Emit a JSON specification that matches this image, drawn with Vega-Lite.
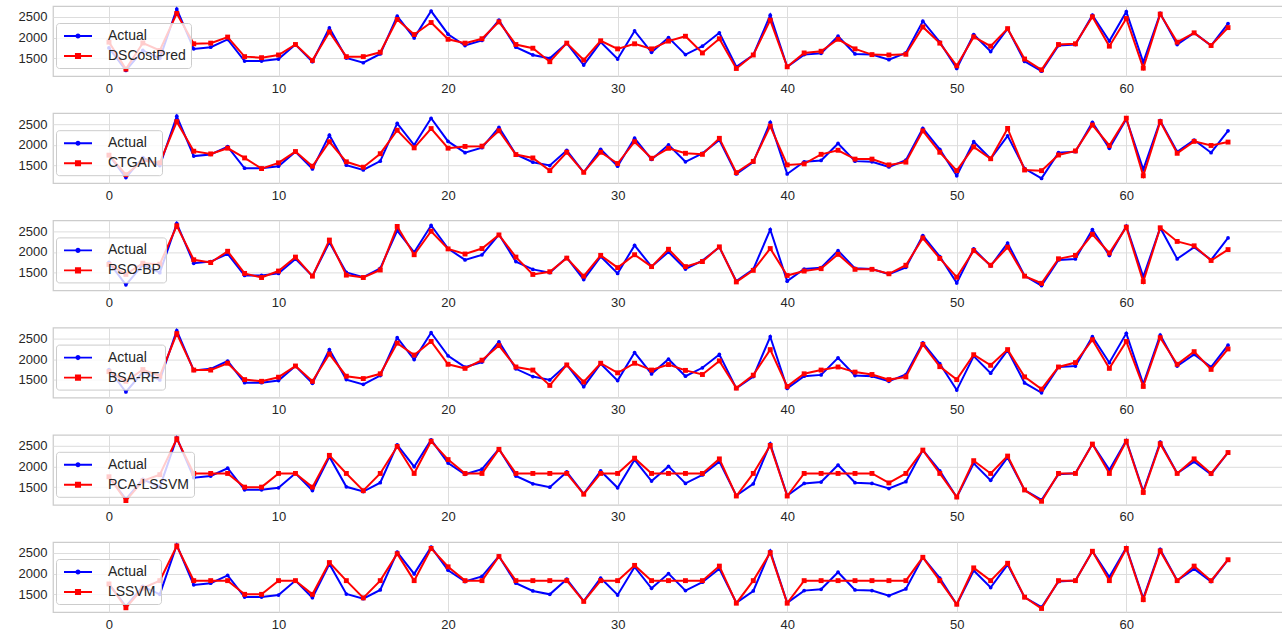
{
"$schema": "https://vega.github.io/schema/vega-lite/v6.json",
"background": "white",
"padding": {"left": 17, "top": 4, "right": 0, "bottom": 0},
"config": {
  "font": "Liberation Sans",
  "view": {"stroke": "#cccccc", "strokeWidth": 1.25},
  "axis": {"grid": true, "gridColor": "#dddddd", "gridWidth": 1, "domain": false, "ticks": false, "labelFont": "Liberation Sans", "labelFontSize": 13, "labelColor": "#262626", "labelPadding": 6, "title": null},
  "axisY": {"format": "d"},
  "legend": {"orient": "none", "legendX": 3, "legendY": 17, "title": null, "fillColor": "rgba(255,255,255,0.8)", "strokeColor": "#cccccc", "cornerRadius": 3, "padding": 5, "labelFontSize": 14, "labelFont": "Liberation Sans", "labelColor": "#262626", "symbolOffset": 9, "labelOffset": 22, "symbolSize": 256, "rowPadding": 5, "symbolStrokeWidth": 0},
  "concat": {"spacing": 15.2}
},
"resolve": {"scale": {"color": "independent", "y": "independent", "x": "independent"}, "legend": {"color": "independent"}},
"data": {"values": [
{"x":0,"Actual":1750,"DSCostPred":1890,"CTGAN":1750,"PSO-BP":1700,"BSA-RF":1700,"PCA-LSSVM":1750,"LSSVM":1750},
{"x":1,"Actual":1210,"DSCostPred":1240,"CTGAN":1280,"PSO-BP":1460,"BSA-RF":1467,"PCA-LSSVM":1177,"LSSVM":1177},
{"x":2,"Actual":1690,"DSCostPred":1870,"CTGAN":1620,"PSO-BP":1730,"BSA-RF":1750,"PCA-LSSVM":1650,"LSSVM":1650},
{"x":3,"Actual":1500,"DSCostPred":1690,"CTGAN":1565,"PSO-BP":1705,"BSA-RF":1590,"PCA-LSSVM":1800,"LSSVM":1830},
{"x":4,"Actual":2687,"DSCostPred":2581,"CTGAN":2557,"PSO-BP":2630,"BSA-RF":2615,"PCA-LSSVM":2665,"LSSVM":2665},
{"x":5,"Actual":1728,"DSCostPred":1850,"CTGAN":1845,"PSO-BP":1812,"BSA-RF":1738,"PCA-LSSVM":1830,"LSSVM":1830},
{"x":6,"Actual":1768,"DSCostPred":1866,"CTGAN":1780,"PSO-BP":1746,"BSA-RF":1738,"PCA-LSSVM":1830,"LSSVM":1830},
{"x":7,"Actual":1955,"DSCostPred":2012,"CTGAN":1918,"PSO-BP":2017,"BSA-RF":1902,"PCA-LSSVM":1830,"LSSVM":1830},
{"x":8,"Actual":1435,"DSCostPred":1541,"CTGAN":1683,"PSO-BP":1484,"BSA-RF":1508,"PCA-LSSVM":1500,"LSSVM":1500},
{"x":9,"Actual":1435,"DSCostPred":1516,"CTGAN":1427,"PSO-BP":1385,"BSA-RF":1467,"PCA-LSSVM":1500,"LSSVM":1500},
{"x":10,"Actual":1484,"DSCostPred":1581,"CTGAN":1565,"PSO-BP":1541,"BSA-RF":1566,"PCA-LSSVM":1830,"LSSVM":1830},
{"x":11,"Actual":1833,"DSCostPred":1833,"CTGAN":1837,"PSO-BP":1877,"BSA-RF":1836,"PCA-LSSVM":1830,"LSSVM":1830},
{"x":12,"Actual":1419,"DSCostPred":1451,"CTGAN":1484,"PSO-BP":1418,"BSA-RF":1467,"PCA-LSSVM":1500,"LSSVM":1500},
{"x":13,"Actual":2232,"DSCostPred":2134,"CTGAN":2073,"PSO-BP":2287,"BSA-RF":2123,"PCA-LSSVM":2265,"LSSVM":2265},
{"x":14,"Actual":1508,"DSCostPred":1541,"CTGAN":1590,"PSO-BP":1443,"BSA-RF":1590,"PCA-LSSVM":1830,"LSSVM":1830},
{"x":15,"Actual":1394,"DSCostPred":1541,"CTGAN":1460,"PSO-BP":1385,"BSA-RF":1533,"PCA-LSSVM":1415,"LSSVM":1415},
{"x":16,"Actual":1606,"DSCostPred":1646,"CTGAN":1785,"PSO-BP":1566,"BSA-RF":1648,"PCA-LSSVM":1830,"LSSVM":1830},
{"x":17,"Actual":2516,"DSCostPred":2435,"CTGAN":2350,"PSO-BP":2615,"BSA-RF":2386,"PCA-LSSVM":2478,"LSSVM":2478},
{"x":18,"Actual":1992,"DSCostPred":2073,"CTGAN":1926,"PSO-BP":1934,"BSA-RF":2099,"PCA-LSSVM":1830,"LSSVM":1830},
{"x":19,"Actual":2638,"DSCostPred":2362,"CTGAN":2390,"PSO-BP":2500,"BSA-RF":2427,"PCA-LSSVM":2605,"LSSVM":2605},
{"x":20,"Actual":2081,"DSCostPred":1959,"CTGAN":1918,"PSO-BP":2074,"BSA-RF":1877,"PCA-LSSVM":2163,"LSSVM":2163},
{"x":21,"Actual":1809,"DSCostPred":1866,"CTGAN":1960,"PSO-BP":1951,"BSA-RF":1779,"PCA-LSSVM":1830,"LSSVM":1830},
{"x":22,"Actual":1931,"DSCostPred":1972,"CTGAN":1967,"PSO-BP":2082,"BSA-RF":1976,"PCA-LSSVM":1830,"LSSVM":1830},
{"x":23,"Actual":2419,"DSCostPred":2378,"CTGAN":2338,"PSO-BP":2410,"BSA-RF":2328,"PCA-LSSVM":2410,"LSSVM":2410},
{"x":24,"Actual":1768,"DSCostPred":1833,"CTGAN":1764,"PSO-BP":1877,"BSA-RF":1812,"PCA-LSSVM":1830,"LSSVM":1830},
{"x":25,"Actual":1581,"DSCostPred":1744,"CTGAN":1683,"PSO-BP":1459,"BSA-RF":1738,"PCA-LSSVM":1830,"LSSVM":1830},
{"x":26,"Actual":1500,"DSCostPred":1419,"CTGAN":1378,"PSO-BP":1525,"BSA-RF":1369,"PCA-LSSVM":1830,"LSSVM":1830},
{"x":27,"Actual":1866,"DSCostPred":1866,"CTGAN":1820,"PSO-BP":1852,"BSA-RF":1861,"PCA-LSSVM":1830,"LSSVM":1830},
{"x":28,"Actual":1337,"DSCostPred":1459,"CTGAN":1337,"PSO-BP":1418,"BSA-RF":1451,"PCA-LSSVM":1330,"LSSVM":1330},
{"x":29,"Actual":1890,"DSCostPred":1923,"CTGAN":1820,"PSO-BP":1918,"BSA-RF":1902,"PCA-LSSVM":1830,"LSSVM":1830},
{"x":30,"Actual":1484,"DSCostPred":1728,"CTGAN":1549,"PSO-BP":1623,"BSA-RF":1672,"PCA-LSSVM":1830,"LSSVM":1830},
{"x":31,"Actual":2159,"DSCostPred":1850,"CTGAN":2073,"PSO-BP":1934,"BSA-RF":1902,"PCA-LSSVM":2197,"LSSVM":2197},
{"x":32,"Actual":1646,"DSCostPred":1728,"CTGAN":1675,"PSO-BP":1648,"BSA-RF":1738,"PCA-LSSVM":1830,"LSSVM":1830},
{"x":33,"Actual":2000,"DSCostPred":1915,"CTGAN":1915,"PSO-BP":2065,"BSA-RF":1870,"PCA-LSSVM":1830,"LSSVM":1830},
{"x":34,"Actual":1590,"DSCostPred":2032,"CTGAN":1795,"PSO-BP":1648,"BSA-RF":1730,"PCA-LSSVM":1830,"LSSVM":1830},
{"x":35,"Actual":1793,"DSCostPred":1630,"CTGAN":1770,"PSO-BP":1770,"BSA-RF":1631,"PCA-LSSVM":1830,"LSSVM":1830},
{"x":36,"Actual":2114,"DSCostPred":1972,"CTGAN":2155,"PSO-BP":2123,"BSA-RF":1959,"PCA-LSSVM":2180,"LSSVM":2180},
{"x":37,"Actual":1297,"DSCostPred":1256,"CTGAN":1330,"PSO-BP":1279,"BSA-RF":1303,"PCA-LSSVM":1287,"LSSVM":1287},
{"x":38,"Actual":1581,"DSCostPred":1581,"CTGAN":1600,"PSO-BP":1557,"BSA-RF":1615,"PCA-LSSVM":1830,"LSSVM":1830},
{"x":39,"Actual":2540,"DSCostPred":2419,"CTGAN":2450,"PSO-BP":2082,"BSA-RF":2230,"PCA-LSSVM":2503,"LSSVM":2503},
{"x":40,"Actual":1297,"DSCostPred":1297,"CTGAN":1516,"PSO-BP":1434,"BSA-RF":1344,"PCA-LSSVM":1287,"LSSVM":1287},
{"x":41,"Actual":1590,"DSCostPred":1630,"CTGAN":1540,"PSO-BP":1541,"BSA-RF":1648,"PCA-LSSVM":1830,"LSSVM":1830},
{"x":42,"Actual":1622,"DSCostPred":1671,"CTGAN":1770,"PSO-BP":1598,"BSA-RF":1738,"PCA-LSSVM":1830,"LSSVM":1830},
{"x":43,"Actual":2032,"DSCostPred":1959,"CTGAN":1868,"PSO-BP":1943,"BSA-RF":1812,"PCA-LSSVM":1830,"LSSVM":1830},
{"x":44,"Actual":1606,"DSCostPred":1728,"CTGAN":1655,"PSO-BP":1582,"BSA-RF":1689,"PCA-LSSVM":1830,"LSSVM":1830},
{"x":45,"Actual":1590,"DSCostPred":1590,"CTGAN":1655,"PSO-BP":1582,"BSA-RF":1631,"PCA-LSSVM":1830,"LSSVM":1830},
{"x":46,"Actual":1467,"DSCostPred":1581,"CTGAN":1516,"PSO-BP":1475,"BSA-RF":1508,"PCA-LSSVM":1602,"LSSVM":1830},
{"x":47,"Actual":1630,"DSCostPred":1598,"CTGAN":1582,"PSO-BP":1680,"BSA-RF":1574,"PCA-LSSVM":1830,"LSSVM":1830},
{"x":48,"Actual":2394,"DSCostPred":2256,"CTGAN":2335,"PSO-BP":2336,"BSA-RF":2353,"PCA-LSSVM":2392,"LSSVM":2392},
{"x":49,"Actual":1890,"DSCostPred":1866,"CTGAN":1820,"PSO-BP":1844,"BSA-RF":1820,"PCA-LSSVM":1830,"LSSVM":1830},
{"x":50,"Actual":1256,"DSCostPred":1321,"CTGAN":1377,"PSO-BP":1393,"BSA-RF":1508,"PCA-LSSVM":1262,"LSSVM":1262},
{"x":51,"Actual":2073,"DSCostPred":2016,"CTGAN":1950,"PSO-BP":2033,"BSA-RF":2107,"PCA-LSSVM":2137,"LSSVM":2137},
{"x":52,"Actual":1663,"DSCostPred":1793,"CTGAN":1664,"PSO-BP":1680,"BSA-RF":1853,"PCA-LSSVM":1830,"LSSVM":1830},
{"x":53,"Actual":2215,"DSCostPred":2215,"CTGAN":2393,"PSO-BP":2115,"BSA-RF":2230,"PCA-LSSVM":2248,"LSSVM":2248},
{"x":54,"Actual":1427,"DSCostPred":1484,"CTGAN":1393,"PSO-BP":1418,"BSA-RF":1574,"PCA-LSSVM":1432,"LSSVM":1432},
{"x":55,"Actual":1191,"DSCostPred":1224,"CTGAN":1377,"PSO-BP":1246,"BSA-RF":1279,"PCA-LSSVM":1160,"LSSVM":1160},
{"x":56,"Actual":1809,"DSCostPred":1833,"CTGAN":1754,"PSO-BP":1836,"BSA-RF":1812,"PCA-LSSVM":1830,"LSSVM":1830},
{"x":57,"Actual":1833,"DSCostPred":1850,"CTGAN":1852,"PSO-BP":1918,"BSA-RF":1918,"PCA-LSSVM":1830,"LSSVM":1830},
{"x":58,"Actual":2540,"DSCostPred":2500,"CTGAN":2475,"PSO-BP":2426,"BSA-RF":2468,"PCA-LSSVM":2537,"LSSVM":2537},
{"x":59,"Actual":1915,"DSCostPred":1793,"CTGAN":1983,"PSO-BP":1975,"BSA-RF":1779,"PCA-LSSVM":1830,"LSSVM":1830},
{"x":60,"Actual":2622,"DSCostPred":2459,"CTGAN":2640,"PSO-BP":2598,"BSA-RF":2427,"PCA-LSSVM":2605,"LSSVM":2605},
{"x":61,"Actual":1402,"DSCostPred":1264,"CTGAN":1254,"PSO-BP":1287,"BSA-RF":1344,"PCA-LSSVM":1372,"LSSVM":1372},
{"x":62,"Actual":2581,"DSCostPred":2565,"CTGAN":2557,"PSO-BP":2582,"BSA-RF":2517,"PCA-LSSVM":2545,"LSSVM":2545},
{"x":63,"Actual":1833,"DSCostPred":1890,"CTGAN":1795,"PSO-BP":2254,"BSA-RF":1877,"PCA-LSSVM":1830,"LSSVM":1830},
{"x":64,"Actual":2114,"DSCostPred":2114,"CTGAN":2082,"PSO-BP":2148,"BSA-RF":2181,"PCA-LSSVM":2180,"LSSVM":2180},
{"x":65,"Actual":1809,"DSCostPred":1809,"CTGAN":1983,"PSO-BP":1795,"BSA-RF":1754,"PCA-LSSVM":1830,"LSSVM":1830},
{"x":66,"Actual":2337,"DSCostPred":2240,"CTGAN":2065,"PSO-BP":2057,"BSA-RF":2246,"PCA-LSSVM":2333,"LSSVM":2333}
]},
"vconcat": [
{"width": 1231, "height": 70,
 "transform": [{"fold": ["Actual", "DSCostPred"], "as": ["series", "value"]}],
 "encoding": {
  "x": {"field": "x", "type": "quantitative", "scale": {"domain": [-3.3, 69.3], "nice": false, "zero": false}, "axis": {"values": [0,10,20,30,40,50,60]}},
  "y": {"field": "value", "type": "quantitative", "scale": {"domain": [1075, 2760], "nice": false, "zero": false}, "axis": {"values": [1500,2000,2500]}},
  "color": {"field": "series", "type": "nominal", "scale": {"domain": ["Actual", "DSCostPred"], "range": ["#0000ff", "#ff0000"]},
   "legend": {"encode": {"symbols": {"update": {"shape": {"signal": "datum.value === 'Actual' ? 'M-1.75,-0.12H-0.3V0.12H-1.75Z M0.3,-0.12H1.75V0.12H0.3Z M0.32,0A0.32,0.32,0,1,1,-0.32,0A0.32,0.32,0,1,1,0.32,0Z' : 'M-1.75,-0.12H-0.38V0.12H-1.75Z M0.38,-0.12H1.75V0.12H0.38Z M-0.38,-0.38H0.38V0.38H-0.38Z'"}, "fill": {"signal": "datum.value === 'Actual' ? '#0000ff' : '#ff0000'"}, "stroke": {"value": "transparent"}, "opacity": {"value": 1}}}}}}
 },
 "layer": [
  {"transform": [{"filter": "datum.series === 'Actual'"}], "mark": {"type": "line", "strokeWidth": 2}},
  {"transform": [{"filter": "datum.series === 'Actual'"}], "mark": {"type": "point", "filled": true, "shape": "circle", "size": 14, "opacity": 1}},
  {"transform": [{"filter": "datum.series !== 'Actual'"}], "mark": {"type": "line", "strokeWidth": 2}},
  {"transform": [{"filter": "datum.series !== 'Actual'"}], "mark": {"type": "point", "filled": true, "shape": "square", "size": 24, "opacity": 1}}
 ]},
{"width": 1231, "height": 70,
 "transform": [{"fold": ["Actual", "CTGAN"], "as": ["series", "value"]}],
 "encoding": {
  "x": {"field": "x", "type": "quantitative", "scale": {"domain": [-3.3, 69.3], "nice": false, "zero": false}, "axis": {"values": [0,10,20,30,40,50,60]}},
  "y": {"field": "value", "type": "quantitative", "scale": {"domain": [1075, 2760], "nice": false, "zero": false}, "axis": {"values": [1500,2000,2500]}},
  "color": {"field": "series", "type": "nominal", "scale": {"domain": ["Actual", "CTGAN"], "range": ["#0000ff", "#ff0000"]},
   "legend": {"encode": {"symbols": {"update": {"shape": {"signal": "datum.value === 'Actual' ? 'M-1.75,-0.12H-0.3V0.12H-1.75Z M0.3,-0.12H1.75V0.12H0.3Z M0.32,0A0.32,0.32,0,1,1,-0.32,0A0.32,0.32,0,1,1,0.32,0Z' : 'M-1.75,-0.12H-0.38V0.12H-1.75Z M0.38,-0.12H1.75V0.12H0.38Z M-0.38,-0.38H0.38V0.38H-0.38Z'"}, "fill": {"signal": "datum.value === 'Actual' ? '#0000ff' : '#ff0000'"}, "stroke": {"value": "transparent"}, "opacity": {"value": 1}}}}}}
 },
 "layer": [
  {"transform": [{"filter": "datum.series === 'Actual'"}], "mark": {"type": "line", "strokeWidth": 2}},
  {"transform": [{"filter": "datum.series === 'Actual'"}], "mark": {"type": "point", "filled": true, "shape": "circle", "size": 14, "opacity": 1}},
  {"transform": [{"filter": "datum.series !== 'Actual'"}], "mark": {"type": "line", "strokeWidth": 2}},
  {"transform": [{"filter": "datum.series !== 'Actual'"}], "mark": {"type": "point", "filled": true, "shape": "square", "size": 24, "opacity": 1}}
 ]},
{"width": 1231, "height": 70,
 "transform": [{"fold": ["Actual", "PSO-BP"], "as": ["series", "value"]}],
 "encoding": {
  "x": {"field": "x", "type": "quantitative", "scale": {"domain": [-3.3, 69.3], "nice": false, "zero": false}, "axis": {"values": [0,10,20,30,40,50,60]}},
  "y": {"field": "value", "type": "quantitative", "scale": {"domain": [1075, 2760], "nice": false, "zero": false}, "axis": {"values": [1500,2000,2500]}},
  "color": {"field": "series", "type": "nominal", "scale": {"domain": ["Actual", "PSO-BP"], "range": ["#0000ff", "#ff0000"]},
   "legend": {"encode": {"symbols": {"update": {"shape": {"signal": "datum.value === 'Actual' ? 'M-1.75,-0.12H-0.3V0.12H-1.75Z M0.3,-0.12H1.75V0.12H0.3Z M0.32,0A0.32,0.32,0,1,1,-0.32,0A0.32,0.32,0,1,1,0.32,0Z' : 'M-1.75,-0.12H-0.38V0.12H-1.75Z M0.38,-0.12H1.75V0.12H0.38Z M-0.38,-0.38H0.38V0.38H-0.38Z'"}, "fill": {"signal": "datum.value === 'Actual' ? '#0000ff' : '#ff0000'"}, "stroke": {"value": "transparent"}, "opacity": {"value": 1}}}}}}
 },
 "layer": [
  {"transform": [{"filter": "datum.series === 'Actual'"}], "mark": {"type": "line", "strokeWidth": 2}},
  {"transform": [{"filter": "datum.series === 'Actual'"}], "mark": {"type": "point", "filled": true, "shape": "circle", "size": 14, "opacity": 1}},
  {"transform": [{"filter": "datum.series !== 'Actual'"}], "mark": {"type": "line", "strokeWidth": 2}},
  {"transform": [{"filter": "datum.series !== 'Actual'"}], "mark": {"type": "point", "filled": true, "shape": "square", "size": 24, "opacity": 1}}
 ]},
{"width": 1231, "height": 70,
 "transform": [{"fold": ["Actual", "BSA-RF"], "as": ["series", "value"]}],
 "encoding": {
  "x": {"field": "x", "type": "quantitative", "scale": {"domain": [-3.3, 69.3], "nice": false, "zero": false}, "axis": {"values": [0,10,20,30,40,50,60]}},
  "y": {"field": "value", "type": "quantitative", "scale": {"domain": [1075, 2760], "nice": false, "zero": false}, "axis": {"values": [1500,2000,2500]}},
  "color": {"field": "series", "type": "nominal", "scale": {"domain": ["Actual", "BSA-RF"], "range": ["#0000ff", "#ff0000"]},
   "legend": {"encode": {"symbols": {"update": {"shape": {"signal": "datum.value === 'Actual' ? 'M-1.75,-0.12H-0.3V0.12H-1.75Z M0.3,-0.12H1.75V0.12H0.3Z M0.32,0A0.32,0.32,0,1,1,-0.32,0A0.32,0.32,0,1,1,0.32,0Z' : 'M-1.75,-0.12H-0.38V0.12H-1.75Z M0.38,-0.12H1.75V0.12H0.38Z M-0.38,-0.38H0.38V0.38H-0.38Z'"}, "fill": {"signal": "datum.value === 'Actual' ? '#0000ff' : '#ff0000'"}, "stroke": {"value": "transparent"}, "opacity": {"value": 1}}}}}}
 },
 "layer": [
  {"transform": [{"filter": "datum.series === 'Actual'"}], "mark": {"type": "line", "strokeWidth": 2}},
  {"transform": [{"filter": "datum.series === 'Actual'"}], "mark": {"type": "point", "filled": true, "shape": "circle", "size": 14, "opacity": 1}},
  {"transform": [{"filter": "datum.series !== 'Actual'"}], "mark": {"type": "line", "strokeWidth": 2}},
  {"transform": [{"filter": "datum.series !== 'Actual'"}], "mark": {"type": "point", "filled": true, "shape": "square", "size": 24, "opacity": 1}}
 ]},
{"width": 1231, "height": 70,
 "transform": [{"fold": ["Actual", "PCA-LSSVM"], "as": ["series", "value"]}],
 "encoding": {
  "x": {"field": "x", "type": "quantitative", "scale": {"domain": [-3.3, 69.3], "nice": false, "zero": false}, "axis": {"values": [0,10,20,30,40,50,60]}},
  "y": {"field": "value", "type": "quantitative", "scale": {"domain": [1075, 2760], "nice": false, "zero": false}, "axis": {"values": [1500,2000,2500]}},
  "color": {"field": "series", "type": "nominal", "scale": {"domain": ["Actual", "PCA-LSSVM"], "range": ["#0000ff", "#ff0000"]},
   "legend": {"encode": {"symbols": {"update": {"shape": {"signal": "datum.value === 'Actual' ? 'M-1.75,-0.12H-0.3V0.12H-1.75Z M0.3,-0.12H1.75V0.12H0.3Z M0.32,0A0.32,0.32,0,1,1,-0.32,0A0.32,0.32,0,1,1,0.32,0Z' : 'M-1.75,-0.12H-0.38V0.12H-1.75Z M0.38,-0.12H1.75V0.12H0.38Z M-0.38,-0.38H0.38V0.38H-0.38Z'"}, "fill": {"signal": "datum.value === 'Actual' ? '#0000ff' : '#ff0000'"}, "stroke": {"value": "transparent"}, "opacity": {"value": 1}}}}}}
 },
 "layer": [
  {"transform": [{"filter": "datum.series === 'Actual'"}], "mark": {"type": "line", "strokeWidth": 2}},
  {"transform": [{"filter": "datum.series === 'Actual'"}], "mark": {"type": "point", "filled": true, "shape": "circle", "size": 14, "opacity": 1}},
  {"transform": [{"filter": "datum.series !== 'Actual'"}], "mark": {"type": "line", "strokeWidth": 2}},
  {"transform": [{"filter": "datum.series !== 'Actual'"}], "mark": {"type": "point", "filled": true, "shape": "square", "size": 24, "opacity": 1}}
 ]},
{"width": 1231, "height": 70,
 "transform": [{"fold": ["Actual", "LSSVM"], "as": ["series", "value"]}],
 "encoding": {
  "x": {"field": "x", "type": "quantitative", "scale": {"domain": [-3.3, 69.3], "nice": false, "zero": false}, "axis": {"values": [0,10,20,30,40,50,60]}},
  "y": {"field": "value", "type": "quantitative", "scale": {"domain": [1075, 2760], "nice": false, "zero": false}, "axis": {"values": [1500,2000,2500]}},
  "color": {"field": "series", "type": "nominal", "scale": {"domain": ["Actual", "LSSVM"], "range": ["#0000ff", "#ff0000"]},
   "legend": {"encode": {"symbols": {"update": {"shape": {"signal": "datum.value === 'Actual' ? 'M-1.75,-0.12H-0.3V0.12H-1.75Z M0.3,-0.12H1.75V0.12H0.3Z M0.32,0A0.32,0.32,0,1,1,-0.32,0A0.32,0.32,0,1,1,0.32,0Z' : 'M-1.75,-0.12H-0.38V0.12H-1.75Z M0.38,-0.12H1.75V0.12H0.38Z M-0.38,-0.38H0.38V0.38H-0.38Z'"}, "fill": {"signal": "datum.value === 'Actual' ? '#0000ff' : '#ff0000'"}, "stroke": {"value": "transparent"}, "opacity": {"value": 1}}}}}}
 },
 "layer": [
  {"transform": [{"filter": "datum.series === 'Actual'"}], "mark": {"type": "line", "strokeWidth": 2}},
  {"transform": [{"filter": "datum.series === 'Actual'"}], "mark": {"type": "point", "filled": true, "shape": "circle", "size": 14, "opacity": 1}},
  {"transform": [{"filter": "datum.series !== 'Actual'"}], "mark": {"type": "line", "strokeWidth": 2}},
  {"transform": [{"filter": "datum.series !== 'Actual'"}], "mark": {"type": "point", "filled": true, "shape": "square", "size": 24, "opacity": 1}}
 ]}
]
}
